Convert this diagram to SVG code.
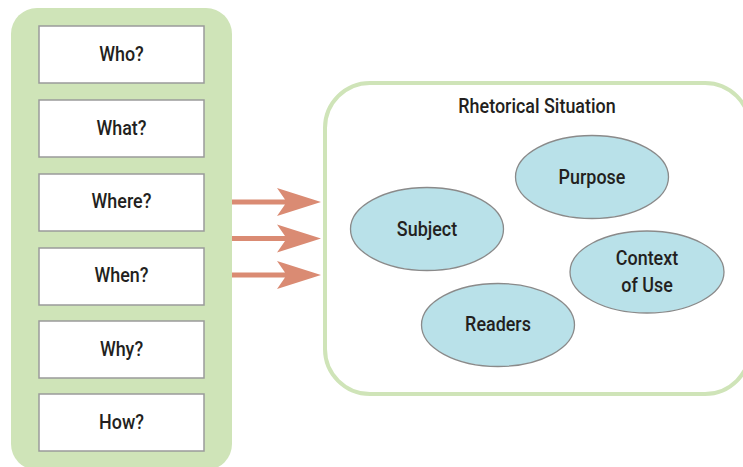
<svg xmlns="http://www.w3.org/2000/svg" width="743" height="467" viewBox="0 0 743 467">
<defs>
<style>
.lbl{font-family:Roboto,"Liberation Sans",sans-serif;font-weight:500;font-size:19.5px;fill:#231f20;text-anchor:middle}
.box{fill:#ffffff;stroke:#9a9a9a;stroke-width:1.5}
.ell{fill:#b9e1e9;stroke:#8a8a8a;stroke-width:1.3}
.arr{fill:#da8b73}
</style>
</defs>
<rect width="743" height="467" fill="#ffffff"/>
<g id="questions">
<rect x="11" y="8" width="221" height="462" rx="26" fill="#cfe4b8"/>
<g id="who"><rect class="box" x="39" y="26" width="165" height="57"/><text class="lbl" transform="translate(121.5 61) scale(0.92 1)">Who?</text></g>
<g id="what"><rect class="box" x="39" y="100" width="165" height="57"/><text class="lbl" transform="translate(121.5 135) scale(0.92 1)">What?</text></g>
<g id="where"><rect class="box" x="39" y="174" width="165" height="57"/><text class="lbl" transform="translate(121.5 208) scale(0.92 1)">Where?</text></g>
<g id="when"><rect class="box" x="39" y="248" width="165" height="57"/><text class="lbl" transform="translate(121.5 282) scale(0.92 1)">When?</text></g>
<g id="why"><rect class="box" x="39" y="321" width="165" height="57"/><text class="lbl" transform="translate(121.5 356) scale(0.92 1)">Why?</text></g>
<g id="how"><rect class="box" x="39" y="394" width="165" height="57"/><text class="lbl" transform="translate(121.5 429) scale(0.92 1)">How?</text></g>
</g>
<g id="connectors">
<path class="arr" d="M232,199.5 L285,199.5 L277,188 L321,202 L277,216 L285,204.5 L232,204.5 Z"/>
<path class="arr" d="M232,236 L285,236 L277,224.5 L321,238.5 L277,252.5 L285,241 L232,241 Z"/>
<path class="arr" d="M232,272.5 L285,272.5 L277,261 L321,275 L277,289 L285,277.5 L232,277.5 Z"/>
</g>
<g id="rhetorical-situation">
<rect x="325" y="83" width="425" height="311" rx="45" fill="#ffffff" stroke="#cfe4b8" stroke-width="4"/>
<text class="lbl" transform="translate(537 113) scale(0.92 1)">Rhetorical Situation</text>
</g>
<g id="subject"><ellipse class="ell" cx="427" cy="229" rx="76.5" ry="41.5"/><text class="lbl" transform="translate(427 236) scale(0.92 1)">Subject</text></g>
<g id="purpose"><ellipse class="ell" cx="592" cy="177" rx="76.5" ry="41.5"/><text class="lbl" transform="translate(592 184) scale(0.92 1)">Purpose</text></g>
<g id="context"><ellipse class="ell" cx="647" cy="272" rx="77" ry="41"/><text class="lbl" transform="translate(647 265) scale(0.92 1)">Context</text><text class="lbl" transform="translate(647 292) scale(0.92 1)">of Use</text></g>
<g id="readers"><ellipse class="ell" cx="498" cy="325" rx="76.5" ry="41.5"/><text class="lbl" transform="translate(498 331) scale(0.92 1)">Readers</text></g>
</svg>
